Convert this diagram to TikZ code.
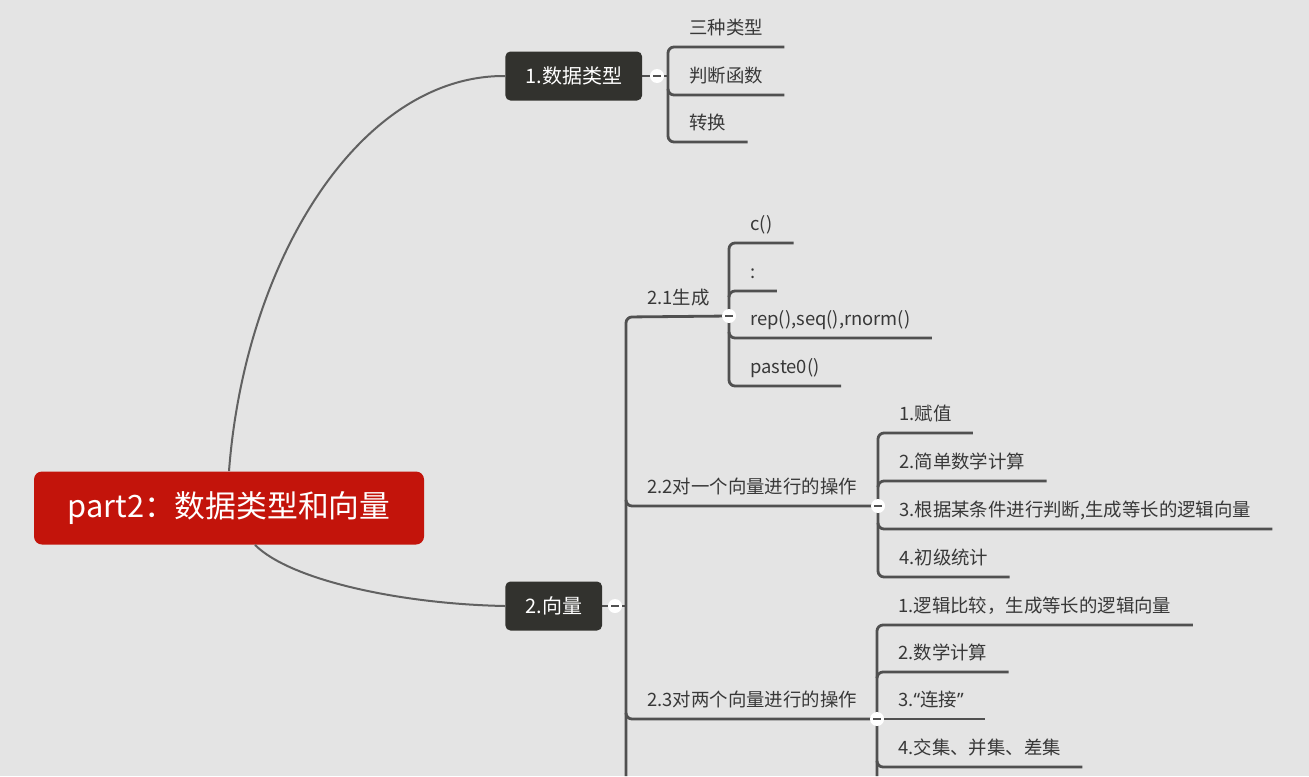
\documentclass[tikz,border=0pt]{standalone}
\usepackage{fontspec}
\setmainfont{Noto Sans CJK SC}
\newfontfamily\quotefont{Noto Sans}
\usepackage{xcolor}
\usetikzlibrary{positioning, calc}
\definecolor{paper}{HTML}{E4E4E4}
\definecolor{wire}{HTML}{505050}
\definecolor{ink}{HTML}{383838}
\definecolor{topicfill}{HTML}{32322E}
\definecolor{rootfill}{HTML}{C3140B}
\pgfdeclarelayer{under}
\pgfsetlayers{under,main}

\begin{document}
\begin{tikzpicture}[x=0.5pt, y=-0.5pt,
  root/.style={fill=rootfill, text=white, rounded corners=4pt, minimum width=195pt,
               minimum height=36.5pt, font=\fontsize{15.4}{17}\selectfont},
  topic/.style={fill=topicfill, text=white, rounded corners=2.5pt, minimum height=24.5pt,
                inner xsep=10pt, anchor=west, font=\fontsize{10}{12}\selectfont},
  leaf/.style={anchor=south west, text=ink, inner xsep=10.5pt, inner ysep=6.3pt,
               text depth=0pt, font=\fontsize{9.2}{11}\selectfont},
  fold/.style={circle, fill=white, inner sep=0pt, minimum size=7pt, text=wire},
  branch/.style={draw=wire, line width=1.4pt, rounded corners=3pt},
  curve/.style={draw=wire!90, line width=1pt}]
  \begin{pgfonlayer}{under}
    \fill[paper] (0,0) rectangle (1309,776);
  \end{pgfonlayer}
  \useasboundingbox (0,0) rectangle (1309,776);

  \node[root] (root) at (229,508) {part2：数据类型和向量};
  \node[topic] (dtype) at (505,76) {1.数据类型};
  \node[topic] (vec) at (505,606) {2.向量};
  \draw[curve] (root.north) .. controls (245,260) and (360,75) .. (dtype.west);
  \draw[curve] ([xshift=13pt]root.south) .. controls (290,580) and (400,604) .. (vec.west);

  \node[leaf] (t1) at (668,47) {三种类型};
  \node[leaf] (t2) at (668,95) {判断函数};
  \node[leaf] (t3) at (668,142) {转换};
  \node[fold] (f1) at (657,76) {\rule{4pt}{1.1pt}};

  \node[leaf] (b1) at (626,317) {2.1生成};
  \node[leaf] (b2) at (626,506) {2.2对一个向量进行的操作};
  \node[leaf] (b3) at (626,719) {2.3对两个向量进行的操作};
  \node[fold] (f2) at (615,606) {\rule{4pt}{1.1pt}};
  \node[fold] (f21) at (729,316) {\rule{4pt}{1.1pt}};
  \node[fold] (f22) at (878,506) {\rule{4pt}{1.1pt}};
  \node[fold] (f23) at (877,719) {\rule{4pt}{1.1pt}};
  \coordinate (trunkend) at (626,776);

  \node[leaf] (c1) at (729,243) {c()};
  \node[leaf] (c2) at (729,291) {:};
  \node[leaf] (c3) at (729,338) {rep(),seq(),rnorm()};
  \node[leaf] (c4) at (729,386) {paste0()};

  \node[leaf] (d1) at (878,433) {1.赋值};
  \node[leaf] (d2) at (878,481) {2.简单数学计算};
  \node[leaf] (d3) at (878,529) {3.根据某条件进行判断,生成等长的逻辑向量};
  \node[leaf] (d4) at (878,577) {4.初级统计};

  \node[leaf] (e1) at (877,625) {1.逻辑比较，生成等长的逻辑向量};
  \node[leaf] (e2) at (877,672) {2.数学计算};
  \node[leaf] (e3) at (877,719) {3.{\quotefont “}连接{\quotefont ”}};
  \node[leaf] (e4) at (877,767) {4.交集、并集、差集};
  \coordinate (e5) at (877,776);

  \begin{pgfonlayer}{under}
    \draw[branch] (t1.south east) -- (t1.south west) -- (t3.south west) -- (t3.south east);
    \draw[branch] ([yshift=3pt]t2.south west) -- (t2.south west) -- (t2.south east);
    \draw[branch] (dtype.east) -- (f1.center) -- (f1 -| t1.south west);

    \draw[branch] (f21.center) -- (b1.south west) -- (trunkend);
    \draw[branch] ([yshift=3pt]b2.south west) -- (b2.south west) -- (f22.center);
    \draw[branch] ([yshift=3pt]b3.south west) -- (b3.south west) -- (f23.center);
    \draw[branch] (vec.east) -- (f2.center) -- (f2 -| b1.south west);

    \draw[branch] (c1.south east) -- (c1.south west) -- (c4.south west) -- (c4.south east);
    \draw[branch] ([yshift=-3pt]c2.south west) -- (c2.south west) -- (c2.south east);
    \draw[branch] ([yshift=3pt]c3.south west) -- (c3.south west) -- (c3.south east);

    \draw[branch] (d1.south east) -- (d1.south west) -- (d4.south west) -- (d4.south east);
    \draw[branch] ([yshift=-3pt]d2.south west) -- (d2.south west) -- (d2.south east);
    \draw[branch] ([yshift=3pt]d3.south west) -- (d3.south west) -- (d3.south east);

    \draw[branch] (e1.south east) -- (e1.south west) -- (e5);
    \draw[branch] ([yshift=-3pt]e2.south west) -- (e2.south west) -- (e2.south east);
    \draw[branch] (f23.center) -- (e3.south east);
    \draw[branch] ([yshift=3pt]e4.south west) -- (e4.south west) -- (e4.south east);
  \end{pgfonlayer}
\end{tikzpicture}
\end{document}
